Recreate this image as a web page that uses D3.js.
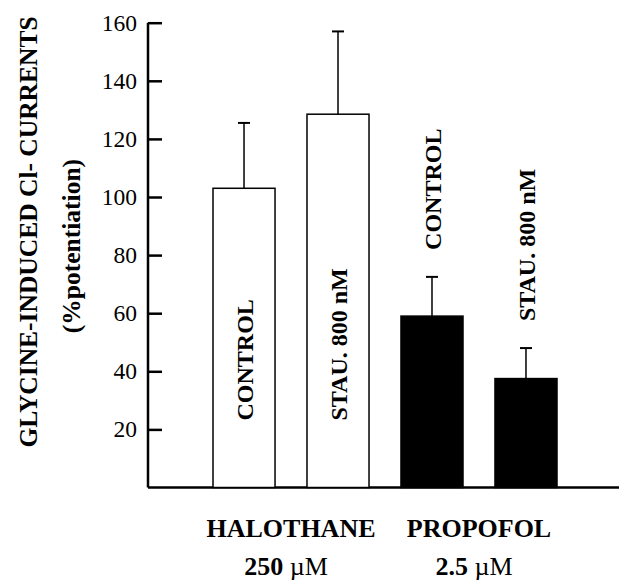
<!DOCTYPE html>
<html>
<head>
<meta charset="utf-8">
<script src="https://cdn.jsdelivr.net/npm/d3@7"></script>
<style>
  body { margin: 0; background: #fff; }
  svg { display: block; }
</style>
</head>
<body>
<svg id="chart"></svg>
<script>
// values
const conditions = ["CONTROL", "STAU. 800 nM", "CONTROL", "STAU. 800 nM"];
const drugOf = ["HALOTHANE", "HALOTHANE", "PROPOFOL", "PROPOFOL"];
const means = [103, 128.5, 59, 37.5];
const errors = [22.5, 28.5, 13.5, 10.5];
const drugs = ["HALOTHANE", "PROPOFOL"];
const doses = ["250", "2.5"];
const yTicks = [20, 40, 60, 80, 100, 120, 140, 160];

const W = 619, H = 582;
const serif = "'Liberation Serif', 'Times New Roman', serif";

const svg = d3.select("#chart").attr("width", W).attr("height", H);

const y = d3.scaleLinear().domain([0, 160]).range([487.5, 22.7]);
const x = d3.scaleBand()
    .domain(d3.range(means.length))
    .range([213, 557])
    .paddingInner(0.34)
    .paddingOuter(0);

const axisX = 148;
const fillOf = d => drugs.indexOf(d) === 0 ? "#fff" : "#000";

// y axis, ticks pointing inward
const yAxis = svg.append("g")
    .attr("transform", `translate(${axisX},0)`)
    .call(d3.axisLeft(y).tickValues(yTicks).tickSize(-14).tickPadding(11).tickSizeOuter(0));
yAxis.select(".domain").remove();
yAxis.append("line")
    .attr("x1", 0).attr("x2", 0)
    .attr("y1", y(160)).attr("y2", y(0))
    .attr("stroke", "#000").attr("stroke-width", 2.5);
yAxis.selectAll(".tick line").attr("stroke-width", 2.5);
yAxis.selectAll(".tick text")
    .attr("font-family", serif)
    .attr("font-size", 23.5)
    .attr("fill", "#000");

// baseline
svg.append("line")
    .attr("x1", axisX).attr("x2", W)
    .attr("y1", y(0)).attr("y2", y(0))
    .attr("stroke", "#000").attr("stroke-width", 2.5);

const bars = svg.append("g")
    .selectAll("g")
    .data(means.map((m, i) => ({ i, m, e: errors[i], label: conditions[i], drug: drugOf[i] })))
    .join("g");

// error bars (upper only)
bars.append("line")
    .attr("x1", d => x(d.i) + x.bandwidth() / 2)
    .attr("x2", d => x(d.i) + x.bandwidth() / 2)
    .attr("y1", d => y(d.m))
    .attr("y2", d => y(d.m + d.e))
    .attr("stroke", "#000").attr("stroke-width", 1.5);
bars.append("line")
    .attr("x1", d => x(d.i) + x.bandwidth() / 2 - 6)
    .attr("x2", d => x(d.i) + x.bandwidth() / 2 + 6)
    .attr("y1", d => y(d.m + d.e))
    .attr("y2", d => y(d.m + d.e))
    .attr("stroke", "#000").attr("stroke-width", 2);

bars.append("rect")
    .attr("x", d => x(d.i))
    .attr("y", d => y(d.m))
    .attr("width", x.bandwidth())
    .attr("height", d => y(0) - y(d.m))
    .attr("fill", d => fillOf(d.drug))
    .attr("stroke", "#000")
    .attr("stroke-width", 1.5);

// condition labels: inside white bars, above the error bar on black ones
bars.append("text")
    .attr("transform", d => {
        const cx = x(d.i) + x.bandwidth() / 2 + 9;
        const inside = fillOf(d.drug) === "#fff";
        const cy = inside ? y(0) - 67 : y(d.m + d.e) - 27;
        return `translate(${cx},${cy}) rotate(-90)`;
    })
    .attr("text-anchor", "start")
    .attr("font-family", serif)
    .attr("font-weight", "bold")
    .attr("font-size", 24)
    .text(d => d.label);

// drug names and doses under the pairs
const groups = svg.append("g")
    .selectAll("g")
    .data(drugs.map((name, k) => {
        const idx = drugOf.map((dd, i) => dd === name ? i : -1).filter(i => i >= 0);
        const cx = d3.mean(idx, i => x(i) + x.bandwidth() / 2);
        return { name, dose: doses[k], cx };
    }))
    .join("g");

groups.append("text")
    .attr("x", d => d.cx)
    .attr("y", 537)
    .attr("text-anchor", "middle")
    .attr("font-family", serif)
    .attr("font-weight", "bold")
    .attr("font-size", 26)
    .text(d => d.name);

const doseText = groups.append("text")
    .attr("x", d => d.cx - 5)
    .attr("y", 575)
    .attr("text-anchor", "middle")
    .attr("font-family", serif)
    .attr("font-size", 26);
doseText.append("tspan").attr("font-weight", "bold").text(d => d.dose + " ");
doseText.append("tspan").text("\u00b5M");

// y axis title
const title = svg.append("g").attr("font-family", serif).attr("font-weight", "bold").attr("font-size", 25.5)
    .attr("text-anchor", "middle");
title.append("text")
    .attr("transform", "translate(37,232) rotate(-90)")
    .text("GLYCINE-INDUCED Cl- CURRENTS");
title.append("text")
    .attr("transform", "translate(80,246) rotate(-90)")
    .text("(%potentiation)");
</script>
</body>
</html>
